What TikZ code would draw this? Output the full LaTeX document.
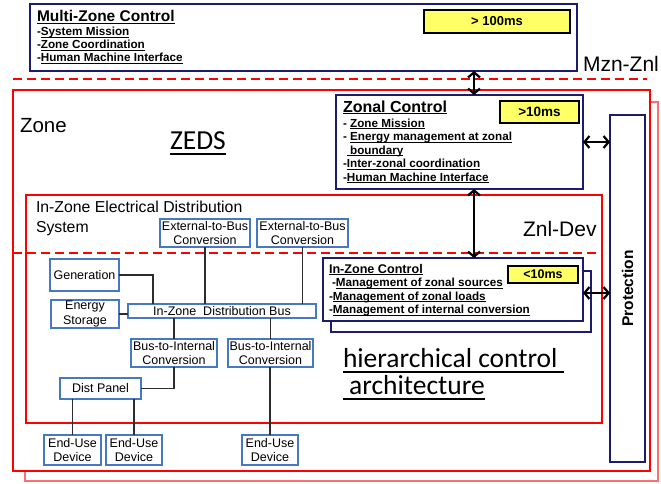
\documentclass[tikz,border=0pt]{standalone}
\usepackage{fontspec}
\setmainfont{Liberation Sans}
\newfontfamily\calfont{Carlito}
\usetikzlibrary{arrows.meta}

\definecolor{navy}{RGB}{28,28,110}
\definecolor{zred}{RGB}{255,0,0}
\definecolor{zredlt}{RGB}{255,110,110}
\definecolor{ylw}{RGB}{255,255,102}
\definecolor{bline}{RGB}{70,120,195}
\definecolor{wirec}{RGB}{45,45,45}

% font size helper (size = baseline skip)
\newcommand\fs[2][]{\fontsize{#2}{#2}\selectfont}
% underline drawn just below the baseline, crossing descenders
\newcommand\ulx[1]{\setbox0\hbox{#1}\rlap{\vrule height -1.3pt depth 2.3pt width \wd0}\box0}
\newcommand\ulbig[1]{\setbox0\hbox{#1}\rlap{\vrule height -4pt depth 5.6pt width \wd0}\box0}

\begin{document}
\begin{tikzpicture}[x=1pt,y=-1pt,
  every node/.style={inner sep=0pt, outer sep=0pt},
  zonebox/.style={draw=zred, line width=1.6pt},
  ctrlbox/.style={draw=navy, line width=2pt, fill=white},
  timebox/.style={draw=black, line width=1.1pt, fill=ylw, font=\bfseries\fs{13}},
  blk/.style={draw=bline, line width=1.2pt, fill=white, align=center,
              font=\fontsize{12.5}{14.5}\selectfont},
  wire/.style={draw=wirec, line width=1.2pt},
  sepline/.style={draw=zred, line width=2pt, dash pattern=on 9pt off 5pt},
  link/.style={line width=2.2pt,
    {Straight Barb[length=5pt,width=12pt]}-{Straight Barb[length=5pt,width=12pt]}},
  txt/.style={anchor=base west},
  item/.style={txt, font=\bfseries\fs{11.7}},
  big/.style={txt, font=\fs{21}},
  hand/.style={txt, font=\calfont\fs{27.5}},
]
\useasboundingbox (0,0) rectangle (661,483);
\fill[white] (0,0) rectangle (661,483);

% zone frames (back copy, front copy)
\node[draw=zredlt, line width=1.4pt, minimum width=633pt, minimum height=379pt] (zoneback) at (341.5,291.5) {};
\node[zonebox, fill=white, minimum width=637pt, minimum height=381pt] (zone) at (331.5,280.5) {};

% level separators
\coordinate (sepAw) at (13,79);
\coordinate (sepAe) at (647,79);
\draw[sepline] (sepAw) -- (sepAe);

% multi-zone control
\node[ctrlbox, minimum width=547pt, minimum height=67pt] (mzc) at (303.5,37.5) {};
\node[timebox, minimum width=146pt, minimum height=23pt] (t100) at (497,21.5) {> 100ms};
\node[txt, font=\bfseries\fs{15.5}] (mzt) at (37,21.5) {\ulx{Multi-Zone Control}};
\node[item] (mz1) at (37,35.5) {-\ulx{System Mission}};
\node[item] (mz2) at (37,48.5) {-\ulx{Zone Coordination}};
\node[item] (mz3) at (37,61.5) {-\ulx{Human Machine Interface}};
\node[big] (mznznl) at (583,71.5) {Mzn-Znl};

% zone labels
\node[txt, font=\fs{20.5}] (zonelbl) at (20,132.5) {Zone};
\node[hand] (zeds) at (170,149) {\ulbig{ZEDS}};

% in-zone electrical distribution system
\node[zonebox, minimum width=576pt, minimum height=228pt] (eds) at (314,309) {};
\node[txt, font=\fs{15.8}] (edsl1) at (36,212.3) {In-Zone Electrical Distribution};
\node[txt, font=\fs{15.8}] (edsl2) at (36,232.3) {System};
\coordinate (sepBw) at (13,253);
\coordinate (sepBe) at (602,253);
\draw[sepline] (sepBw) -- (sepBe);
\node[big] (znldev) at (523,236.5) {Znl-Dev};

% zonal control
\node[ctrlbox, minimum width=247pt, minimum height=94pt] (zc) at (459.5,142) {};
\node[timebox, font=\bfseries\fs{13.5}, minimum width=79pt, minimum height=22pt] (t10) at (539.5,112) {>10ms};
\node[txt, font=\bfseries\fs{16}] (zct) at (343,112) {\ulx{Zonal Control}};
\node[item] (zc1) at (343,127) {- \ulx{Zone Mission}};
\node[item] (zc2) at (343,140.5) {- \ulx{Energy management at zonal}};
\node[item] (zc3) at (343,154) {\hphantom{-}\ulx{\ boundary}};
\node[item] (zc4) at (343,167.5) {-\ulx{Inter-zonal coordination}};
\node[item] (zc5) at (343,181) {-\ulx{Human Machine Interface}};

% protection
\node[draw=navy, line width=2pt, fill=white, minimum width=35pt, minimum height=347pt] (prot) at (627.5,288.5) {};
\node[rotate=90, font=\bfseries\fs{15.5}] (protlbl) at (prot.center) {Protection};

% in-zone control (stacked pair)
\node[ctrlbox, minimum width=260pt, minimum height=61pt] (izcback) at (461,301.5) {};
\node[ctrlbox, minimum width=260pt, minimum height=63pt] (izc) at (453,289.5) {};
\node[timebox, font=\bfseries\fs{12.5}, minimum width=70pt, minimum height=17pt] (t1) at (543,274.5) {<10ms};
\node[txt, font=\bfseries\fs{12.6}] (izct) at (329,273) {\ulx{In-Zone Control}};
\node[item] (izc1) at (329,286.5) {\hspace{3pt}-\ulx{Management of zonal sources}};
\node[item] (izc2) at (329,300) {-\ulx{Management of zonal loads}};
\node[item] (izc3) at (329,313.5) {-\ulx{Management of internal conversion}};

% distribution blocks
\node[blk, minimum width=90pt, minimum height=28pt] (ext1) at (205,233) {External-to-Bus\\Conversion};
\node[blk, minimum width=91pt, minimum height=28pt] (ext2) at (302.5,233) {External-to-Bus\\Conversion};
\node[blk, minimum width=69pt, minimum height=32pt] (gen) at (84.5,275) {Generation};
\node[blk, minimum width=68pt, minimum height=28pt] (es) at (85,314) {Energy\\Storage};
\node[blk, minimum width=188pt, minimum height=14pt] (bus) at (222,311) {In-Zone\ \ Distribution Bus};
\node[blk, minimum width=86pt, minimum height=28pt] (btiA) at (174,353) {Bus-to-Internal\\Conversion};
\node[blk, minimum width=85pt, minimum height=28pt] (btiB) at (270.5,353) {Bus-to-Internal\\Conversion};
\node[blk, minimum width=81pt, minimum height=21pt] (dist) at (100.5,388.5) {Dist Panel};
\node[blk, minimum width=57pt, minimum height=30pt] (eu1) at (72.5,450) {End-Use\\Device};
\node[blk, minimum width=56pt, minimum height=30pt] (eu2) at (134,450) {End-Use\\Device};
\node[blk, minimum width=56pt, minimum height=30pt] (eu3) at (270,450) {End-Use\\Device};

% wiring
\draw[wire] (ext1.south) -- (ext1.south |- bus.north);
\draw[wire] (ext2.south) -- (ext2.south |- bus.north);
\draw[wire] (gen.east) -| ([xshift=25pt]bus.north west);
\draw[wire] (es.east) -- (es.east -| bus.west);
\draw[wire] (btiA.north) -- (btiA.north |- bus.south);
\draw[wire] (btiB.north) -- (btiB.north |- bus.south);
\draw[wire] (btiA.south) |- (dist.east);
\draw[wire] (eu1.north) -- (eu1.north |- dist.south);
\draw[wire] (eu2.north) -- (eu2.north |- dist.south);
\draw[wire] (eu3.north) -- (eu3.north |- btiB.south);

% control links
\draw[link] ([xshift=14.5pt]zc.north) -- ([xshift=14.5pt]zc.north |- mzc.south);
\draw[link] (zc.east) -- (zc.east -| prot.west);
\draw[link] ([xshift=14.5pt]zc.south) -- ([xshift=14.5pt]zc.south |- izc.north);
\draw[link] ([yshift=-3.5pt]izc.east) -- ([yshift=-3.5pt]izc.east -| prot.west);

% caption
\node[hand] (hca1) at (343,367) {\ulbig{hierarchical control }};
\node[hand] (hca2) at (343,394) {\ulbig{\ architecture}};
\end{tikzpicture}
\end{document}
